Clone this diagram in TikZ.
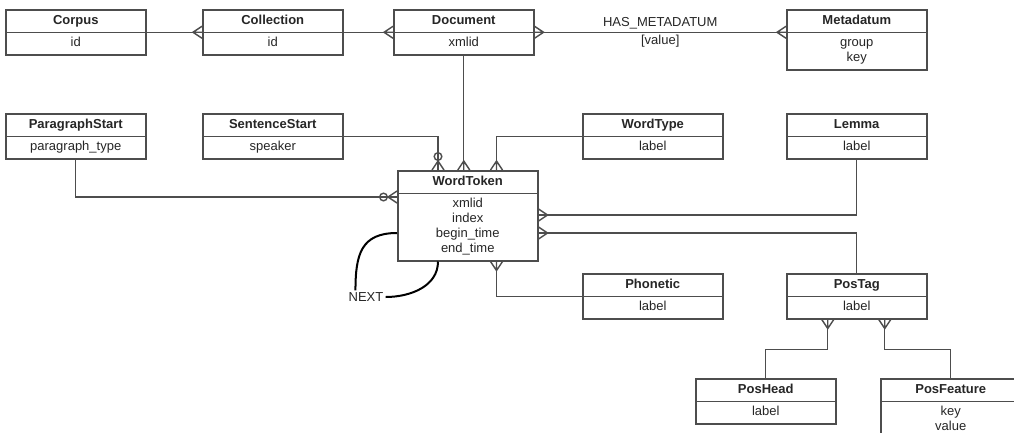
\documentclass[tikz,border=0pt]{standalone}
\usepackage{fontspec}
\setmainfont{Liberation Sans}
\usetikzlibrary{shapes.multipart,arrows.meta}
\definecolor{ink}{HTML}{262626}
\definecolor{wire}{HTML}{4D4D4D}
\pgfdeclarearrow{
  name = Crow,
  parameters = {\the\pgfarrowlength,\the\pgfarrowwidth},
  setup code = {
    \pgfarrowssettipend{0pt}
    \pgfarrowssetlineend{0pt}
    \pgfarrowssetvisualbackend{-\pgfarrowlength}
    \pgfarrowssetbackend{-\pgfarrowlength}
    \pgfarrowshullpoint{0pt}{.5\pgfarrowwidth}
    \pgfarrowshullpoint{0pt}{-.5\pgfarrowwidth}
    \pgfarrowshullpoint{-\pgfarrowlength}{0pt}
    \pgfarrowssavethe\pgfarrowlength
    \pgfarrowssavethe\pgfarrowwidth
  },
  drawing code = {
    \pgfsetdash{}{0pt}
    \pgfpathmoveto{\pgfqpoint{0pt}{.5\pgfarrowwidth}}
    \pgfpathlineto{\pgfqpoint{-\pgfarrowlength}{0pt}}
    \pgfpathlineto{\pgfqpoint{0pt}{-.5\pgfarrowwidth}}
    \pgfpathmoveto{\pgfqpoint{-\pgfarrowlength}{0pt}}
    \pgfpathlineto{\pgfqpoint{0pt}{0pt}}
    \pgfusepathqstroke
  },
  defaults = {length=9pt, width=12pt}
}

\begin{document}
\begin{tikzpicture}[x=1pt, y=1pt,
  ent/.style={rectangle split, rectangle split parts=2, anchor=north west,
              draw=wire, line width=1.5pt, fill=white, minimum width=140pt,
              text width=134pt, align=center, inner xsep=3pt, inner ysep=3pt,
              text=ink, font=\fontsize{13}{15}\selectfont},
  rel/.style={draw=wire, line width=1.4pt},
  many/.style={rel, -{Crow}},
  opt/.style={rel, -{Circle[open, length=9pt, width=9pt] Crow}},
  lbl/.style={text=ink, font=\fontsize{13}{15}\selectfont, inner sep=2pt},
  loopline/.style={draw=black, line width=2pt}
]
\clip (0,0) rectangle (1014,-432);
\fill[white] (0,0) rectangle (1014,-432);

\node[ent] (corpus) at (5,-9) {\textbf{Corpus}\strut\nodepart{two}id\strut};
\node[ent] (coll) at (202,-9) {\textbf{Collection}\strut\nodepart{two}id\strut};
\node[ent] (doc) at (393,-9) {\textbf{Document}\strut\nodepart{two}xmlid\strut};
\node[ent] (meta) at (786,-9) {\textbf{Metadatum}\strut\nodepart{two}group\strut\\key\strut};

\node[ent] (para) at (5,-113) {\textbf{ParagraphStart}\strut\nodepart{two}paragraph\_type\strut};
\node[ent] (sent) at (202,-113) {\textbf{SentenceStart}\strut\nodepart{two}speaker\strut};
\node[ent] (wtype) at (582,-113) {\textbf{WordType}\strut\nodepart{two}label\strut};
\node[ent] (lemma) at (786,-113) {\textbf{Lemma}\strut\nodepart{two}label\strut};

\node[ent] (token) at (397,-170) {\textbf{WordToken}\strut\nodepart{two}xmlid\strut\\index\strut\\begin\_time\strut\\end\_time\strut};

\node[ent] (phon) at (582,-273) {\textbf{Phonetic}\strut\nodepart{two}label\strut};
\node[ent] (pos) at (786,-273) {\textbf{PosTag}\strut\nodepart{two}label\strut};
\node[ent] (poshead) at (695,-378) {\textbf{PosHead}\strut\nodepart{two}label\strut};
\node[ent] (posfeat) at (880,-378) {\textbf{PosFeature}\strut\nodepart{two}key\strut\\value\strut};

\draw[many] (corpus.text split east) -- (coll.text split west);
\draw[many] (coll.text split east) -- (doc.text split west);
\draw[rel, {Crow}-{Crow}] (doc.text split east)
  -- node[lbl, above] {HAS\_METADATUM} node[lbl, below] {[value]} (meta.text split west);
\draw[many] (doc.south) -- (doc.south |- token.north);

\draw[opt] (sent.text split east) -| ([xshift=41pt]token.north west);
\draw[many] (wtype.text split west) -| ([xshift=-42pt]token.north east);
\draw[opt] (para.south) |- ([yshift=-27pt]token.north west);
\draw[many] (lemma.south) |- ([yshift=-45pt]token.north east);
\draw[many] (pos.north) |- ([yshift=-63pt]token.north east);
\draw[many] (phon.text split west) -| ([xshift=-42pt]token.south east);

\draw[rel, {Crow}-] ([xshift=-29pt]pos.south) -- ++(0,-30) -| (poshead.north);
\draw[rel, {Crow}-] ([xshift=28pt]pos.south) -- ++(0,-30) -| (posfeat.north);

\node[lbl] (nextlbl) at (366,-297) {NEXT};
\draw[loopline] ([yshift=-63pt]token.north west) to[out=180, in=90, looseness=1.3] ([xshift=9pt]nextlbl.north west);
\draw[loopline] (nextlbl.east) to[out=0, in=-90] ([xshift=41pt]token.south west);

\end{tikzpicture}
\end{document}
